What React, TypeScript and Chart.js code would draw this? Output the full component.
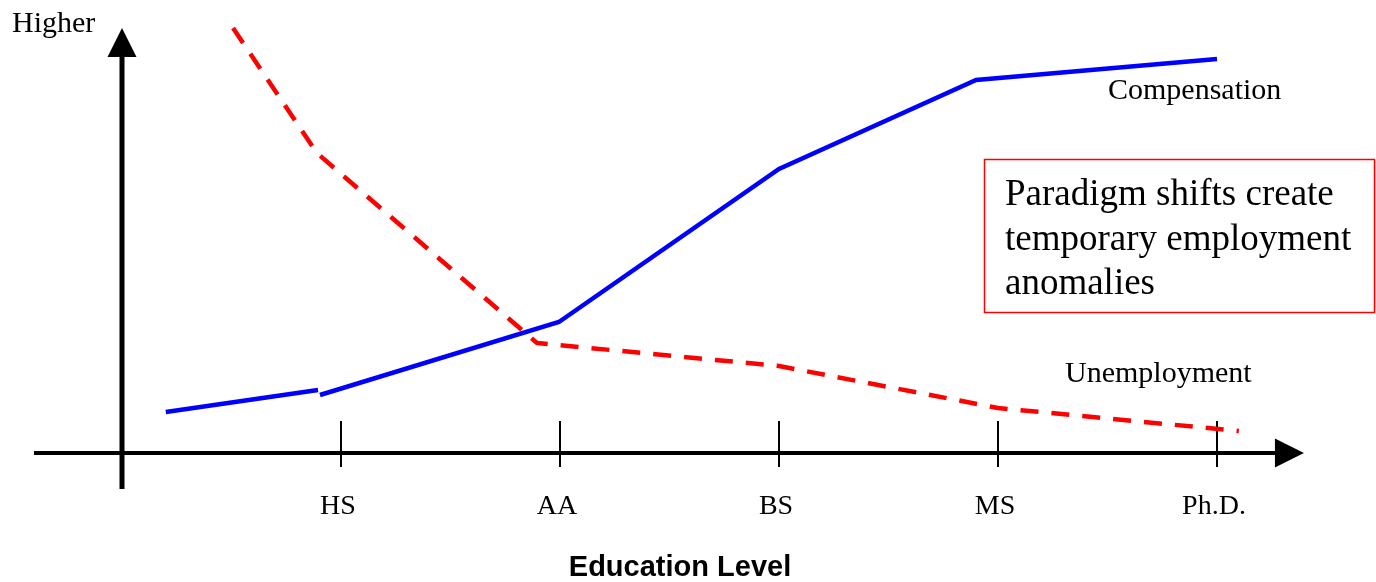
import React, { useEffect, useRef } from "react";
import { Chart, registerables } from "chart.js";

Chart.register(...registerables);

// Education levels (x positions 1..5 on a linear scale; 0 = vertical axis)
const categories = ["HS", "AA", "BS", "MS", "Ph.D."];

// Compensation curve (relative level; null = small break in the line)
const compensationX = [0.2, 0.895, 0.9, 0.904, 1.995, 3.0, 3.9, 5.0];
const compensationY: (number | null)[] = [10.25, 15.75, null, 14.5, 32.75, 71, 93.25, 98.5];

// Unemployment curve (relative level)
const unemploymentX = [0.507, 0.89, 1.895, 3.0, 4.0, 5.1];
const unemploymentY = [106.25, 75, 27.5, 21.75, 11.25, 5.5];

const seriesNames = ["Compensation", "Unemployment"];
const yAxisLabel = "Higher";
const xAxisTitle = "Education Level";
const noteLines = ["Paradigm shifts create", "temporary employment", "anomalies"];

const SERIF = '"Liberation Serif", "Times New Roman", serif';
const SANS = '"Liberation Sans", Arial, sans-serif';

const diagramPlugin = {
  id: "diagram",
  beforeDatasetsDraw(chart: any) {
    const { ctx } = chart;
    const xs = chart.scales.x;
    const ys = chart.scales.y;
    const x0 = xs.getPixelForValue(0);
    const y0 = ys.getPixelForValue(0);
    ctx.save();
    ctx.fillStyle = "#000";
    ctx.strokeStyle = "#000";
    // horizontal axis
    const xStart = xs.getPixelForValue(-0.402);
    const xTip = xs.getPixelForValue(5.397);
    ctx.lineWidth = 4;
    ctx.beginPath();
    ctx.moveTo(xStart, y0);
    ctx.lineTo(xTip - 20, y0);
    ctx.stroke();
    ctx.beginPath();
    ctx.moveTo(xTip, y0);
    ctx.lineTo(xTip - 29, y0 - 14.5);
    ctx.lineTo(xTip - 29, y0 + 14.5);
    ctx.closePath();
    ctx.fill();
    // vertical axis
    const yBottom = ys.getPixelForValue(-9);
    const yTip = ys.getPixelForValue(106.25);
    ctx.lineWidth = 5;
    ctx.beginPath();
    ctx.moveTo(x0, yBottom);
    ctx.lineTo(x0, yTip + 20);
    ctx.stroke();
    ctx.beginPath();
    ctx.moveTo(x0, yTip);
    ctx.lineTo(x0 - 14.5, yTip + 29);
    ctx.lineTo(x0 + 14.5, yTip + 29);
    ctx.closePath();
    ctx.fill();
    // tick marks and labels
    ctx.lineWidth = 2;
    ctx.font = `28px ${SERIF}`;
    ctx.textAlign = "center";
    ctx.textBaseline = "alphabetic";
    categories.forEach((c, i) => {
      const px = xs.getPixelForValue(i + 1);
      ctx.beginPath();
      ctx.moveTo(px, y0 - 32);
      ctx.lineTo(px, y0 + 14);
      ctx.stroke();
      ctx.fillText(c, px - 3, y0 + 61);
    });
    ctx.restore();
  },
  afterDatasetsDraw(chart: any) {
    const { ctx } = chart;
    ctx.save();
    ctx.fillStyle = "#000";
    ctx.textBaseline = "alphabetic";
    ctx.textAlign = "left";
    ctx.font = `30px ${SERIF}`;
    ctx.fillText(yAxisLabel, 12, 32);
    ctx.fillText(seriesNames[0], 1108, 99);
    ctx.fillText(seriesNames[1], 1065, 382);
    // note box
    ctx.strokeStyle = "#ff0000";
    ctx.lineWidth = 1.5;
    ctx.strokeRect(984.5, 159.5, 390, 153);
    ctx.font = `37px ${SERIF}`;
    noteLines.forEach((l, i) => ctx.fillText(l, 1005, 205 + i * 44.5));
    // axis title
    ctx.font = `bold 29px ${SANS}`;
    ctx.textAlign = "center";
    ctx.fillText(xAxisTitle, 680, 576);
    ctx.restore();
  },
};

export default function App() {
  const ref = useRef<HTMLCanvasElement>(null);
  useEffect(() => {
    if (!ref.current) return;
    const chart = new Chart(ref.current, {
      type: "line",
      data: {
        datasets: [
          {
            label: seriesNames[0],
            data: compensationX.map((x, i) => ({ x, y: compensationY[i] })) as any,
            borderColor: "#0000ff",
            borderWidth: 4.5,
            pointRadius: 0,
            tension: 0,
            spanGaps: false,
          },
          {
            label: seriesNames[1],
            data: unemploymentX.map((x, i) => ({ x, y: unemploymentY[i] })),
            borderColor: "#ff0000",
            borderWidth: 4.5,
            borderDash: [18, 13],
            borderJoinStyle: "round",
            pointRadius: 0,
            tension: 0,
          },
        ],
      },
      options: {
        responsive: false,
        animation: false,
        layout: { padding: 0 },
        plugins: { legend: { display: false }, tooltip: { enabled: false } },
        scales: {
          x: { type: "linear", min: -122 / 219, max: (1376 - 122) / 219, display: false },
          y: { type: "linear", min: -32.25, max: 113.25, display: false },
        },
      },
      plugins: [diagramPlugin],
    });
    return () => chart.destroy();
  }, []);
  return (
    <div style={{ position: "absolute", left: 0, top: 0, width: 1376, height: 582, background: "#fff" }}>
      <canvas ref={ref} width={1376} height={582} style={{ display: "block" }} />
    </div>
  );
}
